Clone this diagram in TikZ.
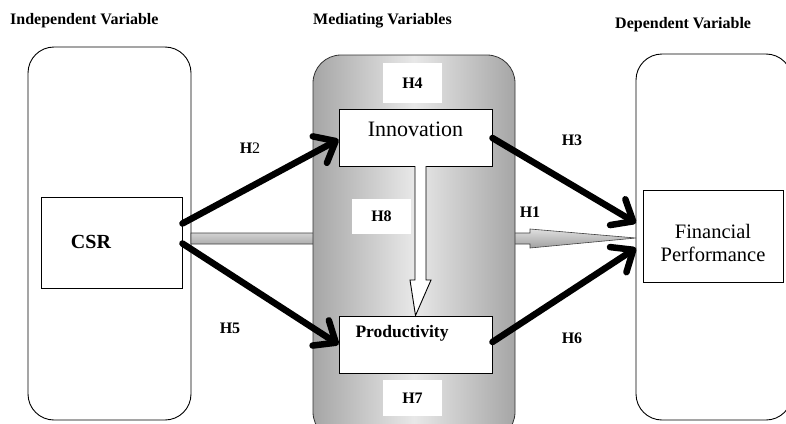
\documentclass[tikz,border=0pt]{standalone}
\usepackage{fontspec}
\setmainfont{Liberation Serif}
\usetikzlibrary{arrows.meta,calc}
\tikzset{
  bigbox/.style={draw=black, line width=0.9pt, rounded corners=26pt},
  inbox/.style={draw=black, line width=0.9pt, fill=white, inner sep=0pt},
  hlab/.style={font=\bfseries\fontsize{16}{18}\selectfont, inner sep=0pt},
  hbox/.style={fill=white, inner sep=0pt, font=\bfseries\fontsize{16}{18}\selectfont},
  header/.style={font=\bfseries\fontsize{16}{18}\selectfont, inner sep=0pt},
  thickarrow/.style={line width=6.5pt, line cap=round, -{Straight Barb[length=18pt,width=30pt,round]}},
}
\begin{document}
\begin{tikzpicture}[x=1pt,y=-1pt]
\useasboundingbox (0,0) rectangle (786,423);
\fill[white] (0,0) rectangle (786,423);

% headers
\node[header, anchor=west] (h-ind) at (10,21) {Independent Variable};
\node[header, anchor=west] (h-med) at (313,21) {Mediating Variables};
\node[header, anchor=west] (h-dep) at (615,25) {Dependent Variable};

% big boxes
\draw[bigbox] (28,47) rectangle (191,420);
\draw[bigbox] (636,54) rectangle (792,420);

% H1 gray arrow (behind middle box)
\shade[top color=gray!25, bottom color=gray!75, draw=gray!50!black, line width=0.6pt]
  (191,233) -- (530,233) -- (530,229) -- (636,238) -- (530,248) -- (530,244) -- (191,244) -- cycle;

% middle shaded box
\shade[left color=gray!70, right color=gray!70, middle color=gray!18, rounded corners=28pt, draw=gray!40!black, line width=0.8pt]
  (313,55) rectangle (515,440);

% inner boxes
\node[inbox, minimum width=141pt, minimum height=91pt] (csr) at (111.5,242.5) {};
\node[font=\bfseries\fontsize{20}{22}\selectfont] (csrt) at (91,242) {CSR};

\node[inbox, minimum width=153pt, minimum height=57pt] (inno) at (415.5,137.5) {};
\node[font=\fontsize{22}{24}\selectfont] (innot) at (415.5,129) {Innovation};

\node[inbox, minimum width=153pt, minimum height=57pt] (prod) at (415.5,344.5) {};
\node[font=\bfseries\fontsize{17.5}{19}\selectfont, anchor=west] (prodt) at (352,333) {Productivity};

\node[inbox, minimum width=140pt, minimum height=92pt] (fp) at (713,236) {};
\node[font=\fontsize{20.5}{23}\selectfont, align=center] (fpt) at (713,243) {Financial\\Performance};

% white label boxes
\node[hbox, minimum width=59pt, minimum height=40pt] (h4) at (412.5,83) {H4};
\node[hbox, minimum width=59pt, minimum height=35pt] (h8) at (381.5,216.5) {H8};
\node[hbox, minimum width=59pt, minimum height=36pt] (h7) at (412.5,398) {H7};

% hollow arrow H8
\draw[fill=white, line width=0.9pt] (415,166) -- (415,280) -- (410,280) -- (prod.north) -- (431,280) -- (426,280) -- (426,166);

% black arrows
\coordinate (fpin1) at (636,223);
\coordinate (fpin2) at (636,248);
\draw[thickarrow] ([yshift=19pt]csr.east) -- ([yshift=-2pt]inno.west);
\draw[thickarrow] ([yshift=-1pt]csr.east) -- (prod.west);
\draw[thickarrow] ([yshift=-0.5pt]inno.east) -- (fpin1);
\draw[thickarrow] ([yshift=2.5pt]prod.east) -- (fpin2);

% plain labels
\node[hlab, font=\fontsize{16}{18}\selectfont] (lh2) at (250,148) {\textbf{H}2};
\node[hlab] (lh5) at (230,328) {H5};
\node[hlab] (lh3) at (572,140) {H3};
\node[hlab] (lh6) at (572,338) {H6};
\node[hlab] (lh1) at (530,212) {H1};
\end{tikzpicture}
\end{document}
